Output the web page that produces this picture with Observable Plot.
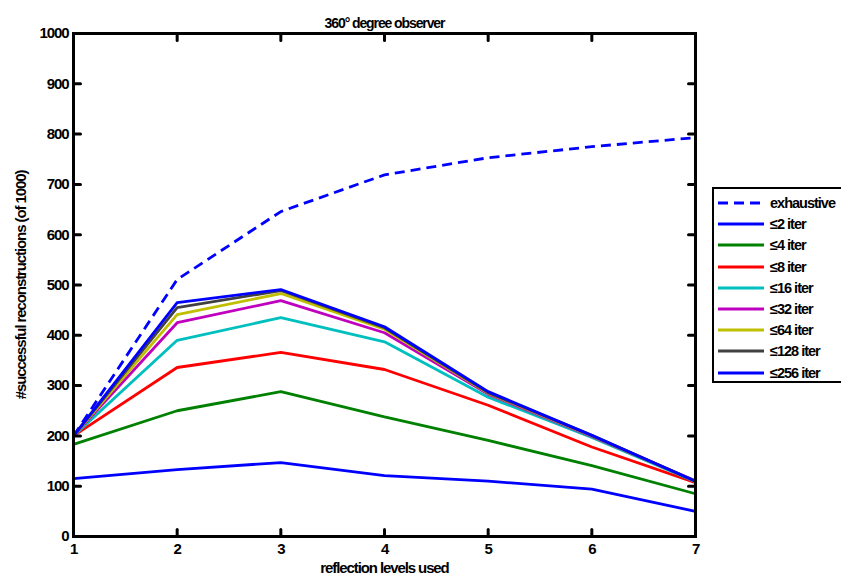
<!DOCTYPE html>
<html>
<head>
<meta charset="utf-8">
<script src="https://cdn.jsdelivr.net/npm/d3@7"></script>
<script src="https://cdn.jsdelivr.net/npm/@observablehq/plot@0.6"></script>
<style>
  html, body { margin: 0; padding: 0; background: #fff; }
  #wrap { position: relative; width: 841px; height: 580px; overflow: hidden; font-family: "Liberation Sans Narrow", "Liberation Sans", Arial, sans-serif; font-weight: bold; }
  #legend { position: absolute; left: 712px; top: 187px; width: 140px; height: 196px; border: 2px solid #000; background: #fff; box-sizing: border-box; }
  .row { position: absolute; left: 4px; height: 20px; display: flex; align-items: center; font-size: 14.5px; letter-spacing: -1px; }
  .row svg { margin-right: 6px; }
</style>
</head>
<body>
<div id="wrap"></div>
<script>
const levels = [1, 2, 3, 4, 5, 6, 7];
const seriesNames = ["exhaustive", "≤2 iter", "≤4 iter", "≤8 iter", "≤16 iter", "≤32 iter", "≤64 iter", "≤128 iter", "≤256 iter"];
const exhaustive = [200, 511, 646, 719, 753, 775, 793];
const iter2   = [115, 133, 147, 121, 110, 94, 50];
const iter4   = [183, 250, 288, 238, 191, 141, 85];
const iter8   = [200, 336, 366, 332, 261, 178, 107];
const iter16  = [200, 390, 435, 387, 277, 197, 109];
const iter32  = [200, 425, 469, 405, 283, 199, 111];
const iter64  = [200, 441, 483, 412, 285, 200, 110];
const iter128 = [200, 455, 489, 415, 286, 201, 110];
const iter256 = [200, 465, 491, 417, 288, 201, 110];
const yTicks = [0, 100, 200, 300, 400, 500, 600, 700, 800, 900, 1000];
const colors = ["#0000ff", "#0000ff", "#008000", "#ff0000", "#00bfbf", "#bf00bf", "#bfbf00", "#404040", "#0000ff"];

const allSeries = [exhaustive, iter2, iter4, iter8, iter16, iter32, iter64, iter128, iter256];
const rows = [];
allSeries.forEach((vals, si) => vals.forEach((v, i) => rows.push({series: seriesNames[si], idx: si, x: levels[i], y: v})));

const font = '"Liberation Sans Narrow", "Liberation Sans", Arial, sans-serif';

const lineMarks = seriesNames.map((name, si) =>
  Plot.line(rows.filter(d => d.idx === si), {
    x: "x", y: "y",
    stroke: colors[si],
    strokeWidth: 2.8,
    strokeDasharray: si === 0 ? "10,6" : null,
    strokeLinejoin: "miter",
    strokeLinecap: "butt"
  })
);

const tickShape = {draw(context, l) { context.moveTo(0, 0); context.lineTo(0, -l); }};
const tickOpts = {length: 7, anchor: "start", shape: tickShape, stroke: "#000", strokeWidth: 3};

const chart = Plot.plot({
  width: 841,
  height: 580,
  marginLeft: 73,
  marginRight: 146,
  marginTop: 33,
  marginBottom: 44,
  style: {fontFamily: font, fontWeight: "bold", fontSize: "15px", color: "#000", background: "#fff", letterSpacing: "-1.1px"},
  x: {domain: [1, 7]},
  y: {domain: [0, 1000]},
  marks: [
    ...lineMarks,
    Plot.axisX(levels, {anchor: "bottom", tickSize: 0, tickPadding: 7, fontSize: 15, tickFormat: d => String(d), label: "reflection levels used", labelAnchor: "center", labelOffset: 36, labelArrow: "none"}),
    Plot.axisY(yTicks, {anchor: "left", tickSize: 0, tickPadding: 5, fontSize: 15, tickFormat: d => String(d), label: "#successful reconstructions (of 1000)", labelAnchor: "center", labelOffset: 58, labelArrow: "none"}),
    Plot.vector(levels, {x: d => d, frameAnchor: "bottom", rotate: 0, ...tickOpts}),
    Plot.vector(levels, {x: d => d, frameAnchor: "top", rotate: 180, ...tickOpts}),
    Plot.vector(yTicks, {y: d => d, frameAnchor: "left", rotate: 90, ...tickOpts}),
    Plot.vector(yTicks, {y: d => d, frameAnchor: "right", rotate: 270, ...tickOpts}),
    Plot.frame({stroke: "#000", strokeWidth: 3}),
    Plot.text(["360° degree observer"], {frameAnchor: "top", dy: -15, fontSize: 14, fill: "#000"})
  ]
});

const wrap = document.getElementById("wrap");
wrap.appendChild(chart);

const legend = document.createElement("div");
legend.id = "legend";
seriesNames.forEach((name, si) => {
  const row = document.createElement("div");
  row.className = "row";
  row.style.top = (4 + si * 21.2) + "px";
  row.innerHTML = `<svg width="46" height="6"><line x1="0" y1="3" x2="46" y2="3" stroke="${colors[si]}" stroke-width="2.8" ${si === 0 ? 'stroke-dasharray="10,6"' : ''}/></svg><span>${name}</span>`;
  legend.appendChild(row);
});
wrap.appendChild(legend);
</script>
</body>
</html>
